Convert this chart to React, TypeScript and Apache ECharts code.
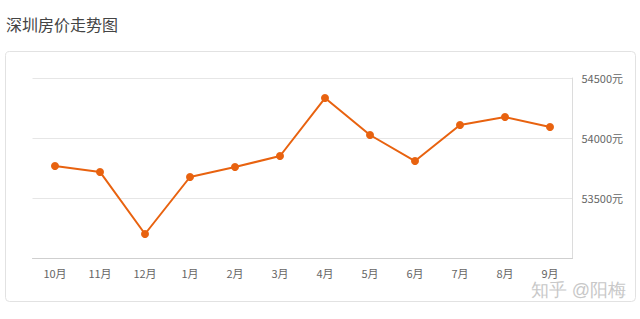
import React, { useEffect, useRef } from "react";
import * as echarts from "echarts";

const categories = ["10月", "11月", "12月", "1月", "2月", "3月", "4月", "5月", "6月", "7月", "8月", "9月"];
const prices = [53767, 53717, 53200, 53675, 53758, 53850, 54333, 54025, 53808, 54108, 54175, 54092];
const yMin = 53000;
const yMax = 54500;
const yInterval = 500;

export default function App() {
  const ref = useRef<HTMLDivElement>(null);
  useEffect(() => {
    document.body.style.margin = "0";
    const chart = echarts.init(ref.current!, null, { renderer: "svg" });
    chart.setOption({
      animation: false,
      backgroundColor: "#ffffff",
      textStyle: { fontFamily: "'Noto Sans CJK SC', 'Noto Sans', sans-serif" },
      title: {
        text: "深圳房价走势图",
        left: 1,
        top: 11,
        textStyle: { fontSize: 16, fontWeight: "normal", color: "#444" },
      },
      graphic: [
        {
          type: "rect",
          shape: { x: 5.5, y: 51.5, width: 630, height: 250, r: 4 },
          style: { fill: "none", stroke: "#e2e2e2", lineWidth: 1 },
          z: -1,
        },
        {
          type: "text",
          right: 14,
          top: 281,
          style: { text: "知乎 @阳梅", fontSize: 18, fill: "#c8c8c8" },
        },
      ],
      grid: { left: 32.5, right: 67.5, top: 78, bottom: 61 },
      xAxis: {
        type: "category",
        data: categories,
        boundaryGap: true,
        axisLine: { lineStyle: { color: "#cfcfcf" } },
        axisTick: { alignWithLabel: true, lineStyle: { color: "#cfcfcf" } },
        axisLabel: { color: "#666", fontSize: 11, margin: 9 },
      },
      yAxis: {
        type: "value",
        position: "right",
        min: yMin,
        max: yMax,
        interval: yInterval,
        axisLine: { show: true, lineStyle: { color: "#dcdcdc" } },
        axisTick: { show: false },
        splitLine: { lineStyle: { color: "#e6e6e6" } },
        axisLabel: {
          color: "#666",
          fontSize: 11,
          margin: 9,
          formatter: (v: number) => (v === yMin ? "" : v + "元"),
        },
      },
      series: [
        {
          type: "line",
          data: prices,
          symbol: "circle",
          symbolSize: 8,
          lineStyle: { color: "#e8620f", width: 2 },
          itemStyle: { color: "#e8620f" },
        },
      ],
    });
    return () => chart.dispose();
  }, []);
  return <div ref={ref} style={{ width: 640, height: 319, position: "absolute", left: 0, top: 0 }} />;
}
